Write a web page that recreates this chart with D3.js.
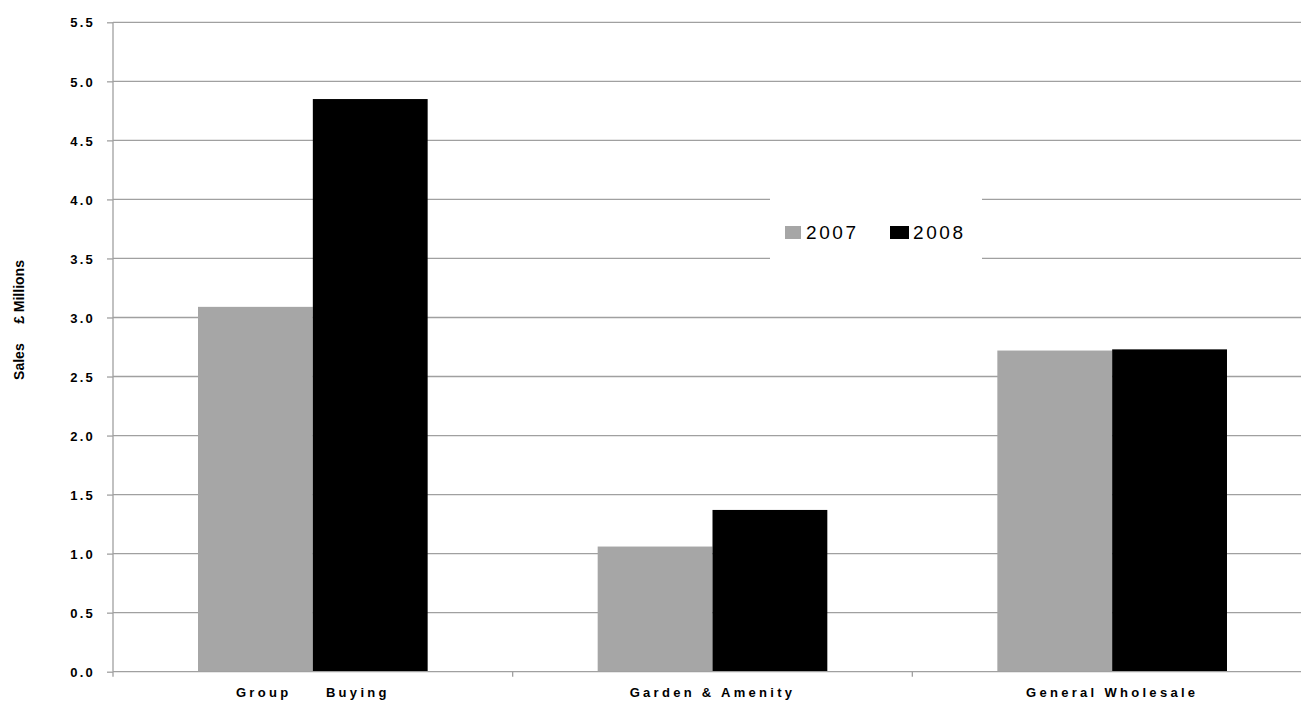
<!DOCTYPE html>
<html>
<head>
<meta charset="utf-8">
<script src="https://cdn.jsdelivr.net/npm/d3@7"></script>
<style>
  body { margin: 0; background: #fff; }
  svg { font-family: Arial, "Liberation Sans", sans-serif; }
</style>
</head>
<body>
<div id="chart"></div>
<script>
// data
let categories = ["Group     Buying", "Garden & Amenity", "General Wholesale"];
let seriesNames = ["2007", "2008"];
let sales2007 = [3.09, 1.06, 2.72];
let sales2008 = [4.85, 1.37, 2.73];
let yTicks = [0, 0.5, 1, 1.5, 2, 2.5, 3, 3.5, 4, 4.5, 5, 5.5];

let chartWidth = 1301;
let chartHeight = 701;
let plotLeft = 113, plotRight = 1312, plotTop = 22.3, plotBottom = 671.7;

let colors = { "2007": "#a6a6a6", "2008": "#000000" };

let svg = d3.select("#chart")
  .append("svg")
    .attr("width", chartWidth)
    .attr("height", chartHeight);

let xScale = d3.scaleBand().domain(categories).range([plotLeft, plotRight]);
let bw = xScale.bandwidth();
let xInner = d3.scaleBand().domain(seriesNames).range([bw * 0.2127, bw * 0.7873]);

let yScale = d3.scaleLinear().domain([0, 5.5]).range([plotBottom, plotTop]);

// gridlines
svg.append("g")
  .selectAll("line")
  .data(yTicks.filter(d => d > 0))
  .enter()
  .append("line")
    .attr("x1", plotLeft)
    .attr("x2", plotRight)
    .attr("y1", d => yScale(d))
    .attr("y2", d => yScale(d))
    .attr("stroke", "#a0a0a0")
    .attr("stroke-width", 1.3);

// bars
let rows = categories.map((c, i) => ({ cat: c, values: [
  { key: "2007", v: sales2007[i] },
  { key: "2008", v: sales2008[i] }
]}));

let groups = svg.selectAll(".grp").data(rows).enter()
  .append("g")
    .attr("class", "grp")
    .attr("transform", d => "translate(" + xScale(d.cat) + ",0)");

groups.selectAll("rect")
  .data(d => d.values)
  .enter()
  .append("rect")
    .attr("x", d => xInner(d.key))
    .attr("width", xInner.bandwidth())
    .attr("y", d => yScale(d.v))
    .attr("height", d => yScale(0) - yScale(d.v))
    .attr("fill", d => colors[d.key]);

// y axis
let yAxis = d3.axisLeft(yScale)
  .tickValues(yTicks)
  .tickFormat(d3.format(".1f"))
  .tickSize(6)
  .tickPadding(12);

let yAxisGroup = svg.append("g")
  .attr("transform", "translate(" + plotLeft + ",0)")
  .call(yAxis);
yAxisGroup.select(".domain").attr("stroke", "#a0a0a0").attr("stroke-width", 1.3)
  .attr("d", "M0," + plotTop + "V" + plotBottom);
yAxisGroup.selectAll(".tick line").attr("stroke", "#a0a0a0").attr("stroke-width", 1.3);
yAxisGroup.selectAll(".tick text")
  .attr("fill", "#000")
  .style("font-size", "13px")
  .style("font-weight", "bold")
  .style("letter-spacing", "2.2px")
  .attr("dy", "0.36em");

// x axis
let xAxis = d3.axisBottom(xScale).tickSize(0).tickPadding(16);
let xAxisGroup = svg.append("g")
  .attr("transform", "translate(0," + plotBottom + ")")
  .call(xAxis);
xAxisGroup.select(".domain").attr("stroke", "#a0a0a0").attr("stroke-width", 1.3)
  .attr("d", "M" + plotLeft + ",0H" + plotRight);
xAxisGroup.selectAll(".tick text")
  .attr("fill", "#000")
  .style("font-size", "13px")
  .style("font-weight", "bold")
  .style("letter-spacing", "3.3px")
  .style("white-space", "pre");

// category separators
svg.append("g")
  .selectAll("line")
  .data(categories)
  .enter()
  .append("line")
    .attr("x1", d => xScale(d))
    .attr("x2", d => xScale(d))
    .attr("y1", plotBottom)
    .attr("y2", plotBottom + 5)
    .attr("stroke", "#a0a0a0")
    .attr("stroke-width", 1.3);

// y axis title
svg.append("text")
  .attr("transform", "translate(24,320) rotate(-90)")
  .attr("text-anchor", "middle")
  .style("font-size", "14px")
  .style("font-weight", "bold")
  .style("white-space", "pre")
  .text("Sales     £ Millions");

// legend
let legend = svg.append("g");
legend.append("rect")
  .attr("x", 770).attr("y", 188)
  .attr("width", 212).attr("height", 100)
  .attr("fill", "#fff");

let legendX = d3.scalePoint().domain(seriesNames).range([785, 890]);

let items = legend.selectAll(".item").data(seriesNames).enter()
  .append("g")
    .attr("class", "item")
    .attr("transform", d => "translate(" + legendX(d) + ",226)");

items.append("rect")
  .attr("width", d => d === "2007" ? 16 : 19)
  .attr("height", 13)
  .attr("fill", d => colors[d]);

items.append("text")
  .attr("x", d => d === "2007" ? 21 : 23)
  .attr("y", 12.5)
  .style("font-size", "19px")
  .style("letter-spacing", "2.6px")
  .text(d => d);
</script>
</body>
</html>
